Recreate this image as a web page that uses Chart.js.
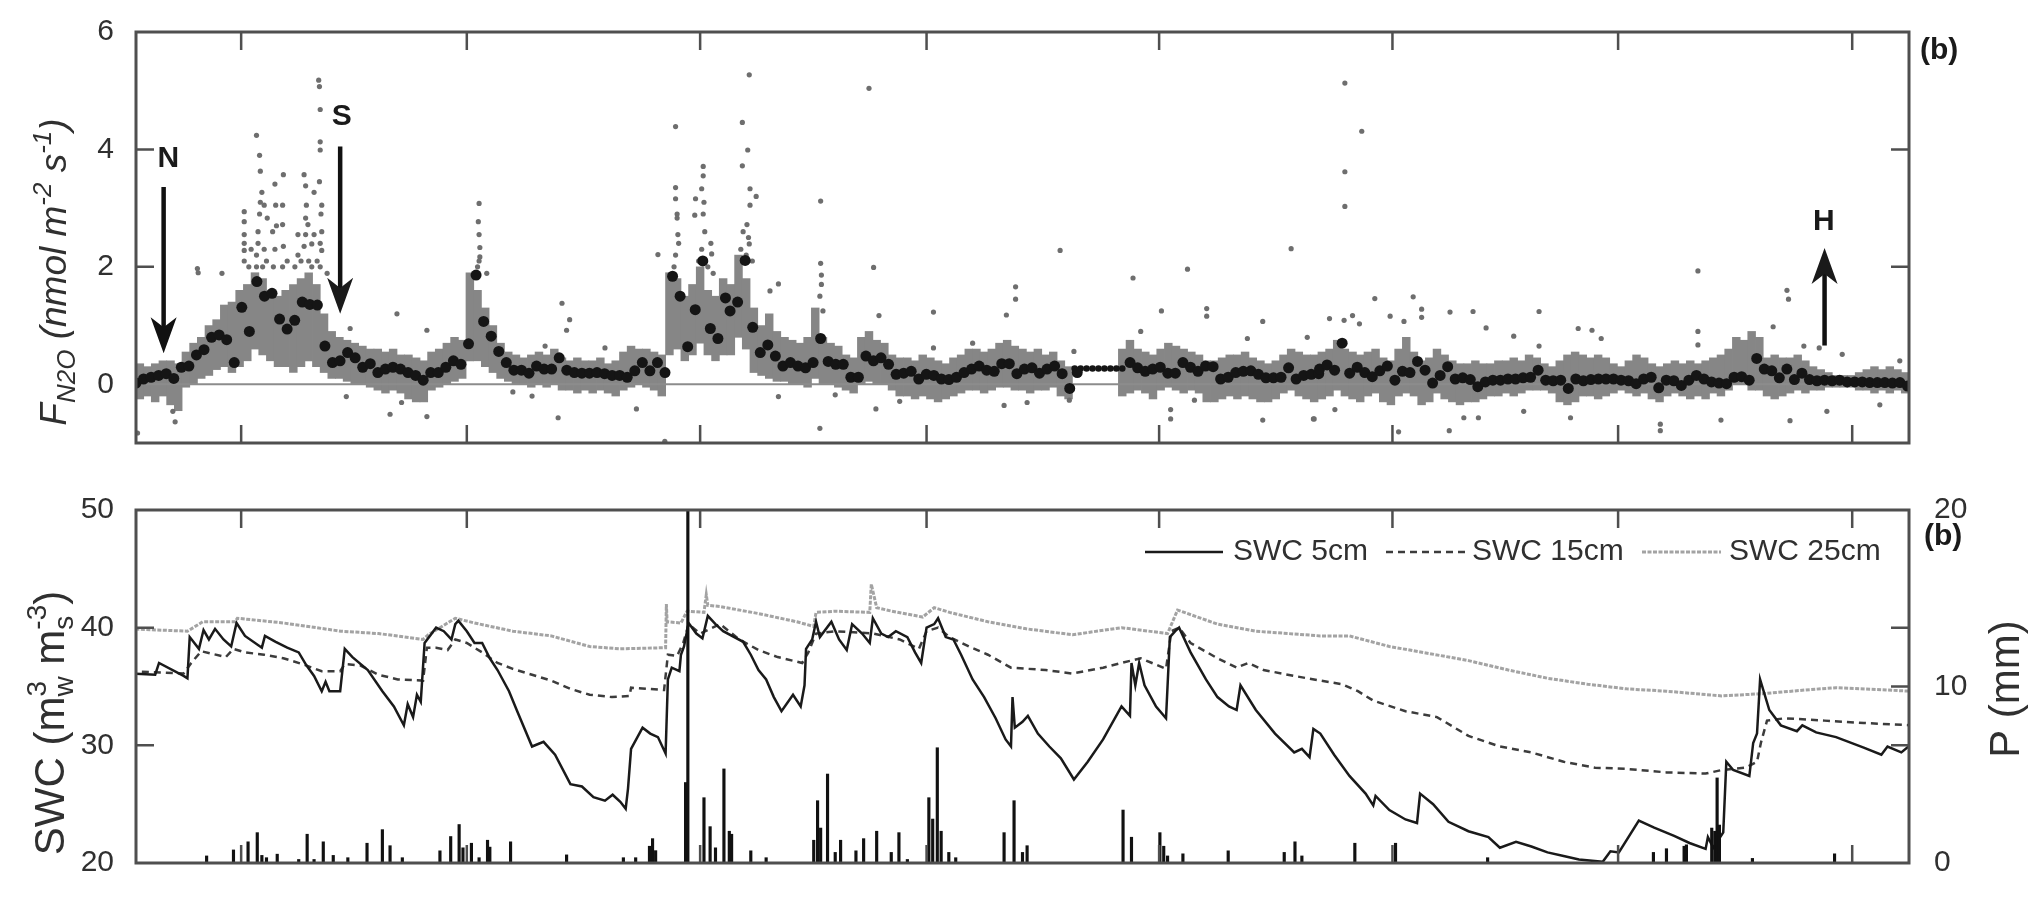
<!DOCTYPE html>
<html>
<head>
<meta charset="utf-8">
<script src="https://cdn.jsdelivr.net/npm/chart.js@4.4.1/dist/chart.umd.min.js"></script>
<style>
    html, body { margin: 0; padding: 0; background: #fff; }
    #wrap { position: relative; width: 2035px; height: 898px; overflow: hidden; }
    #topBox { position: absolute; left: 0; top: 0; width: 2035px; height: 475px; }
    #botBox { position: absolute; left: 0; top: 475px; width: 2035px; height: 423px; }
</style>
</head>
<body>
<div id="wrap">
    <div id="topBox"><canvas id="fluxChart"></canvas></div>
    <div id="botBox"><canvas id="swcChart"></canvas></div>
</div>
<script>
// ---- axis ticks (x in days, month starts have no labels) ----
const monthTicks = [0.2, 29.6, 60.0, 89.5, 119.8, 150.2, 179.6, 210.1];
const fluxTicks = [-1, 0, 2, 4, 6];
const swcTicks = [20, 30, 40, 50];
const rainTicks = [0, 10, 20];

// ---- daily mean N2O flux, three stretches: [first day, last day] + values ----
const meanSpanA = [-13.5, 63.3];
const meanFluxA = [0.02,0.09,0.12,0.15,0.18,0.1,0.29,0.31,0.5,0.59,
    0.8,0.84,0.76,0.37,1.31,0.9,1.75,1.5,1.55,1.11,
    0.94,1.09,1.4,1.36,1.35,0.65,0.37,0.4,0.54,0.45,
    0.29,0.35,0.2,0.26,0.29,0.26,0.2,0.15,0.07,0.2,
    0.2,0.29,0.4,0.34,0.69,1.86,1.07,0.82,0.56,0.37,
    0.24,0.24,0.19,0.31,0.26,0.26,0.45,0.24,0.2,0.19,
    0.19,0.2,0.18,0.15,0.15,0.12,0.23,0.37,0.23,0.37,
    0.2,1.84,1.5,0.64,1.27,2.1,0.95,0.78,1.47];
const meanSpanB = [63.9, 140.6];
const meanFluxB = [1.25,1.4,2.11,0.97,0.54,0.67,0.48,0.31,0.37,0.31,
    0.28,0.37,0.78,0.39,0.34,0.34,0.12,0.12,0.48,0.4,
    0.45,0.34,0.17,0.19,0.22,0.09,0.17,0.15,0.09,0.08,
    0.12,0.2,0.26,0.31,0.24,0.22,0.35,0.35,0.18,0.26,
    0.28,0.19,0.26,0.31,0.18,-0.07,0.2,
    null,null,null,null,null,null,
    0.37,0.28,0.22,0.26,0.29,0.19,0.19,0.37,0.29,0.22,
    0.31,0.3,0.09,0.12,0.2,0.22,0.23,0.17,0.11,0.11,
    0.12,0.28,0.09,0.15,0.17,0.18];
const meanSpanC = [140.7, 217.3];
const meanFluxC = [0.26,0.33,0.24,0.7,0.19,0.29,0.2,0.13,0.23,0.31,
    0.07,0.22,0.2,0.39,0.24,0.02,0.15,0.3,0.09,0.11,
    0.08,-0.04,0.04,0.07,0.07,0.09,0.09,0.11,0.12,0.24,
    0.07,0.06,0.07,-0.07,0.09,0.06,0.08,0.09,0.09,0.09,
    0.07,0.06,0.01,0.09,0.12,-0.06,0.07,0.06,-0.02,0.07,
    0.15,0.09,0.04,0.02,0.01,0.12,0.13,0.07,0.44,0.26,
    0.23,0.11,0.26,0.08,0.19,0.08,0.06,0.07,0.06,0.07,
    0.04,0.04,0.04,0.03,0.03,0.03,0.02,0.03,-0.03];
// gap-filled days (small dots)
const gapSpan = [108.8, 115.0];
const gapFlux = [0.27,0.27,0.27,0.27,0.27,0.27,0.27,0.27,0.27];

// ---- half-hourly flux cloud: dense range per day (low / high) ----
const greyStartA = -14;
const greyLowA = [-0.3,-0.25,-0.2,-0.3,-0.2,-0.35,-0.45,-0.05,0.0,0.1,
    0.15,0.25,0.3,0.2,0.3,0.4,0.6,0.5,0.4,0.3,
    0.3,0.2,0.3,0.4,0.3,0.2,0.1,0.1,0.05,0.0,
    0.0,-0.05,-0.1,-0.15,-0.1,-0.15,-0.25,-0.3,-0.3,-0.1,
    -0.05,0.0,0.05,0.1,0.4,0.4,0.3,0.2,0.1,0.05,
    0.0,0.0,-0.05,0.0,-0.05,0.0,-0.1,-0.1,-0.15,-0.1,
    -0.15,-0.1,-0.15,-0.2,-0.1,-0.05,0.0,-0.05,-0.1,-0.2,
    0.5,0.6,0.4,0.5,0.7,0.5,0.4];
const greyHighA = [0.3,0.35,0.3,0.35,0.4,0.4,0.35,0.55,0.7,0.8,
    1.0,1.1,1.35,1.4,1.6,1.7,1.9,1.8,1.6,1.5,
    1.6,1.7,1.8,1.9,1.7,1.2,0.9,0.8,0.75,0.7,
    0.65,0.6,0.6,0.55,0.6,0.5,0.5,0.45,0.4,0.55,
    0.6,0.7,0.8,0.75,1.9,1.6,1.3,1.0,0.7,0.55,
    0.5,0.45,0.5,0.55,0.5,0.6,0.45,0.4,0.45,0.4,
    0.4,0.45,0.35,0.4,0.55,0.65,0.6,0.6,0.55,0.5,
    1.9,1.8,1.5,1.7,2.0,1.6,1.5];
const greyStartB = 63;
const greyLowB = [0.5,0.5,0.8,0.6,0.2,0.15,0.1,0.05,0.05,0.0,
    0.0,-0.05,0.1,0.0,0.0,-0.05,-0.1,-0.15,0.0,0.05,
    0.0,0.0,-0.1,-0.2,-0.2,-0.25,-0.2,-0.25,-0.3,-0.25,
    -0.2,-0.15,-0.1,-0.1,-0.15,-0.1,-0.05,-0.05,-0.1,-0.1,
    -0.15,-0.1,-0.1,-0.05,-0.2,-0.25,null,null,null,null,
    null,null,-0.2,-0.15,-0.1,-0.15,-0.25,-0.1,-0.05,-0.1,
    -0.15,-0.1,-0.15,-0.3,-0.3,-0.25,-0.2,-0.25,-0.2,-0.25,
    -0.3,-0.3,-0.25,-0.15,-0.1,-0.2,-0.25];
const greyHighB = [1.8,1.7,2.2,1.8,1.3,1.0,1.2,0.9,0.8,0.75,
    0.7,0.8,1.3,0.8,0.7,0.65,0.5,0.45,0.8,0.9,
    0.75,0.7,0.5,0.45,0.45,0.4,0.5,0.45,0.4,0.35,
    0.45,0.5,0.6,0.6,0.55,0.6,0.7,0.75,0.65,0.6,
    0.55,0.6,0.5,0.55,0.4,0.3,null,null,null,null,
    null,null,0.6,0.75,0.6,0.55,0.5,0.6,0.7,0.65,
    0.6,0.55,0.5,0.4,0.4,0.45,0.5,0.5,0.55,0.45,
    0.4,0.35,0.4,0.5,0.6,0.55,0.5];
const greyStartC = 140;
const greyLowC = [-0.3,-0.25,-0.2,-0.1,-0.2,-0.25,-0.3,-0.2,-0.15,-0.3,
    -0.35,-0.2,-0.15,-0.2,-0.35,-0.3,-0.15,-0.25,-0.3,-0.35,
    -0.3,-0.3,-0.25,-0.2,-0.2,-0.15,-0.2,-0.15,-0.1,-0.1,
    -0.1,-0.15,-0.3,-0.35,-0.3,-0.2,-0.2,-0.25,-0.2,-0.15,
    -0.1,-0.15,-0.2,-0.15,-0.25,-0.3,-0.2,-0.15,-0.2,-0.25,
    -0.2,-0.25,-0.15,-0.2,-0.1,0.0,0.0,-0.1,-0.1,-0.2,
    -0.25,-0.2,-0.15,-0.1,-0.15,-0.1,-0.1,-0.05,-0.05,-0.05,
    -0.05,-0.1,-0.1,-0.15,-0.1,-0.15,-0.1,-0.15];
const greyHighC = [0.5,0.55,0.6,0.75,0.6,0.55,0.5,0.55,0.6,0.45,
    0.4,0.6,0.8,0.55,0.4,0.45,0.6,0.5,0.4,0.35,
    0.35,0.4,0.35,0.35,0.4,0.4,0.45,0.4,0.5,0.45,
    0.35,0.3,0.4,0.5,0.55,0.5,0.45,0.5,0.45,0.35,
    0.3,0.4,0.5,0.45,0.35,0.3,0.35,0.4,0.35,0.4,
    0.35,0.4,0.45,0.5,0.6,0.8,0.75,0.9,0.8,0.45,
    0.5,0.45,0.45,0.5,0.4,0.3,0.25,0.2,0.15,0.15,
    0.15,0.2,0.25,0.3,0.25,0.3,0.25,0.2];

// single half-hourly values outside the dense band [day, flux]
const greyOutliers = [
    [-13.3,-0.83],[-8.4,-0.64],[-8.7,-0.46],[-5.5,1.97],[-5.4,1.9],[-2.3,1.89],
    [0.6,2.94],[0.6,2.77],[0.6,2.55],[0.6,2.28],[0.6,2.1],[0.6,2.4],[1.2,2.0],[1.5,2.3],
    [2.2,4.24],[2.6,3.9],[2.7,3.63],[2.9,3.27],[3.2,3.05],[3.6,2.83],[2.4,2.6],
    [2.2,2.0],[2.2,2.2],[2.4,2.4],[2.6,2.9],[2.7,3.1],[3.0,2.0],[3.2,2.3],[3.5,2.1],
    [4.6,3.41],[4.7,3.05],[4.3,2.6],[5.7,3.57],[5.6,3.05],[5.6,2.72],
    [4.4,2.0],[4.6,2.3],[4.8,2.7],[5.6,2.0],[5.7,2.35],[6.2,2.1],
    [7.6,2.55],[8.4,3.57],[8.6,3.38],[8.7,3.05],[8.6,2.83],[8.9,2.72],[9.4,2.39],[9.7,3.27],
    [7.2,2.0],[7.6,2.2],[8.0,2.1],[8.4,2.35],[8.6,2.55],[9.0,2.1],[9.4,2.0],[9.7,2.55],
    [10.3,5.18],[10.4,5.07],[10.5,4.68],[10.5,4.13],[10.5,3.99],[10.4,3.45],[10.7,3.05],[10.7,2.6],[10.7,2.28],[11.4,1.89],
    [10.1,2.1],[10.5,2.0],[10.5,2.4],[10.6,2.9],
    [13.9,-0.21],[14.4,0.95],[20.5,1.2],[19.6,-0.51],[21.1,-0.31],[24.4,-0.55],[24.4,0.92],
    [31.2,3.08],[31.1,2.77],[31.2,2.55],[31.3,2.33],[31.3,2.17],[32.2,1.89],[31.0,2.0],[31.2,2.1],
    [35.6,-0.13],[38.1,-0.2],[39.8,0.65],[41.5,-0.57],[42.0,1.38],[43.0,1.1],[42.6,0.92],
    [47.6,0.62],[51.7,-0.42],[54.5,2.21],[55.4,-0.97],
    [56.8,4.39],[56.8,3.35],[56.8,3.16],[57.0,2.83],[57.1,2.55],
    [56.6,2.0],[56.8,2.2],[57.2,2.4],[57.0,2.9],
    [60.4,3.71],[60.4,3.55],[60.2,3.33],[60.5,3.1],[59.3,2.88],[59.4,3.16],[61.5,2.22],[61.7,1.89],
    [59.8,2.1],[60.2,2.3],[60.6,2.6],[60.4,2.9],[61.0,2.0],[61.4,2.4],
    [66.4,5.27],[65.5,4.46],[66.2,3.99],[65.5,3.72],[66.5,3.33],[67.3,3.2],[66.5,3.05],[66.1,2.72],[66.4,2.39],
    [65.3,2.3],[65.6,2.6],[66.0,2.2],[66.3,2.5],[66.8,2.1],
    [69.1,1.59],[70.2,1.71],[70.2,-0.21],
    [75.7,3.12],[75.7,2.06],[75.8,1.86],[76.0,1.25],[75.6,-0.75],[77.6,-0.18],[75.6,1.5],[75.8,1.7],
    [82.0,5.04],[82.6,1.99],[83.3,1.17],[82.9,-0.42],
    [90.4,1.23],[90.4,0.62],[95.5,0.7],[86.0,-0.29],
    [99.9,1.18],[101.1,1.66],[101.1,1.45],[99.6,-0.36],[102.6,-0.31],
    [106.9,2.28],[108.7,0.56],[108.1,-0.27],
    [116.4,1.81],[117.4,0.9],[120.1,1.25],[121.3,-0.59],[121.3,-0.43],
    [123.5,1.96],[126.0,1.29],[126.0,1.16],[124.4,-0.27],
    [131.3,0.78],[133.3,1.07],[133.3,-0.61],[137.0,2.31],[139.1,0.8],[139.9,-0.59],
    [144.0,5.13],[146.2,4.31],[144.0,3.62],[144.0,3.03],
    [142.0,1.12],[143.9,1.09],[145.0,1.17],[145.9,1.03],
    [147.9,1.46],[149.9,1.16],[151.7,1.07],[152.9,1.49],[154.0,1.28],[154.0,1.14],
    [151.0,-0.81],[140.0,-0.59],[142.7,-0.43],[157.6,-0.79],
    [157.7,1.23],[160.7,1.24],[162.4,0.96],[166.0,0.82],
    [169.3,1.24],[169.3,0.65],[167.3,-0.46],[161.4,-0.57],[159.5,-0.57],
    [174.4,0.95],[176.2,0.92],[177.4,0.78],[173.4,-0.57],
    [185.1,-0.79],[185.1,-0.68],
    [190.0,1.93],[190.0,0.9],[190.0,0.67],[193.0,-0.61],
    [199.8,0.98],[201.6,1.6],[201.8,1.45],[202.0,-0.62],
    [203.8,0.65],[205.8,0.62],[206.8,-0.46],[208.8,0.51],[213.7,-0.35],[216.3,0.4]
];

// ---- soil water content [day, %] ----
const swc5 = [
    [-14.3,36.1],[-11.0,36.0],[-10.5,37.0],[-7.3,35.9],[-6.8,35.7],[-6.5,39.2],[-5.3,38.2],[-4.7,39.8],[-4.0,39.0],[-3.2,39.9],
    [-2.1,39.0],[-1.1,38.4],[-0.4,40.4],[0.7,39.3],[2.9,38.3],[3.3,39.3],[4.7,38.8],[6.2,38.3],[7.7,37.9],[8.7,36.8],
    [9.7,35.9],[10.7,34.6],[11.2,35.4],[11.7,34.6],[13.1,34.6],[13.7,38.2],[14.7,37.5],[16.7,36.4],[18.6,34.6],[20.1,33.3],
    [21.4,31.7],[21.9,33.5],[22.6,32.4],[23.1,34.3],[23.6,33.7],[24.1,38.7],[25.6,40.0],[26.6,39.7],[27.6,39.0],[28.1,40.3],
    [28.5,40.6],[29.6,39.7],[30.6,38.7],[31.6,38.7],[32.6,37.4],[33.6,36.4],[35.1,34.6],[36.1,33.0],[38.1,29.9],[39.6,30.3],
    [41.1,29.2],[43.1,26.7],[44.6,26.5],[46.1,25.6],[47.6,25.3],[48.6,25.8],[49.6,25.2],[50.3,24.6],[50.6,26.3],[51.0,29.7],
    [52.5,31.5],[53.5,31.0],[54.5,30.7],[55.5,29.3],[55.8,35.6],[56.3,36.6],[57.3,36.3],[57.5,37.7],[57.9,38.4],[58.5,40.4],
    [59.5,39.5],[60.3,39.1],[61.0,41.0],[62.0,40.3],[63.0,39.7],[65.6,38.8],[66.6,37.7],[67.6,36.4],[68.6,35.6],[69.6,34.1],
    [70.6,32.9],[72.1,34.3],[73.1,33.3],[73.6,35.1],[73.8,38.2],[74.6,39.0],[75.1,40.5],[75.6,39.2],[77.1,40.5],[78.1,39.0],
    [79.1,38.1],[79.8,40.3],[81.1,39.5],[82.1,38.7],[82.5,40.8],[83.6,39.5],[84.5,39.2],[85.5,39.7],[87.0,39.2],[88.0,37.9],
    [88.8,37.0],[89.5,40.0],[90.5,40.3],[91.0,40.8],[92.0,39.2],[93.0,39.0],[94.0,37.7],[95.5,35.6],[97.0,34.1],[98.5,32.3],
    [99.8,30.5],[100.5,29.9],[100.7,34.1],[101.0,31.5],[102.0,32.0],[102.7,32.5],[104.0,31.0],[105.5,29.9],[107.0,28.9],[108.7,27.1],
    [110.5,28.6],[112.5,30.5],[114.9,33.3],[116.0,32.5],[116.2,37.0],[116.7,35.1],[117.2,37.0],[117.9,35.1],[119.4,33.3],[120.7,32.3],
    [121.2,39.2],[121.9,39.7],[122.4,40.0],[123.9,37.9],[125.9,35.6],[127.4,34.1],[128.9,33.3],[129.9,33.0],[130.4,35.1],[132.4,33.0],
    [134.9,31.0],[137.4,29.4],[138.4,29.7],[139.4,29.0],[139.9,31.4],[140.8,31.0],[142.6,29.2],[144.6,27.4],[146.7,25.9],[147.7,24.9],
    [148.0,25.7],[149.8,24.5],[151.9,23.7],[153.4,23.4],[153.8,25.9],[155.5,25.0],[157.5,23.5],[160.1,22.7],[162.7,22.2],[164.2,21.3],
    [166.3,21.8],[168.3,21.4],[170.4,20.9],[172.5,20.6],[174.5,20.3],[177.6,20.1],[178.6,21.0],[179.7,20.9],[182.3,23.6],[184.3,23.0],
    [186.9,22.3],[188.9,21.7],[191.0,21.2],[191.3,22.2],[192.0,21.3],[193.3,22.6],[193.7,28.6],[194.6,27.9],[196.7,27.4],[197.2,30.2],
    [197.7,31.0],[198.1,35.6],[199.3,33.0],[200.8,31.7],[202.9,31.2],[203.6,31.7],[205.4,31.1],[208.0,30.7],[211.6,29.8],[213.9,29.2],
    [214.7,29.9],[216.5,29.4],[217.8,30.1]
];
const swc15 = [
    [-14.3,36.3],[-7.3,36.1],[-6.3,37.0],[-5.0,38.0],[-1.8,37.5],[-0.8,38.2],[0.7,37.9],[3.2,37.7],[5.7,37.4],[8.2,36.9],
    [10.7,36.3],[13.1,36.3],[13.7,36.9],[15.7,36.8],[18.1,36.0],[20.6,35.6],[23.9,35.5],[24.4,38.3],[25.6,38.3],[27.1,38.1],
    [28.1,39.0],[29.6,38.7],[31.6,37.9],[33.6,37.0],[35.6,36.5],[38.1,36.0],[40.6,35.5],[43.1,34.8],[45.6,34.3],[48.5,34.1],
    [50.8,34.2],[51.0,34.9],[55.3,34.7],[55.8,37.7],[57.0,37.6],[57.8,38.7],[58.5,40.3],[60.0,39.5],[62.6,40.3],[65.1,39.0],
    [67.6,38.1],[70.1,37.5],[73.3,37.0],[74.1,37.9],[75.1,39.5],[77.6,39.7],[82.6,39.5],[86.0,39.0],[88.5,38.2],[89.5,39.7],
    [91.0,40.0],[92.5,39.2],[95.0,38.4],[97.5,37.7],[100.5,36.6],[105.0,36.4],[108.5,36.1],[112.5,36.6],[114.9,37.0],[117.4,37.4],
    [120.7,36.5],[121.4,39.7],[122.4,40.0],[123.9,38.7],[127.4,37.4],[129.9,36.6],[131.4,37.0],[133.4,36.4],[137.4,35.9],[140.8,35.5],
    [143.6,35.2],[145.7,34.6],[147.7,33.8],[151.9,32.9],[156.0,32.4],[160.1,30.8],[164.2,29.9],[168.3,29.4],[172.5,28.6],[176.6,28.1],
    [180.7,28.0],[185.9,27.7],[191.0,27.6],[193.1,27.9],[196.2,28.1],[197.7,28.6],[198.2,30.2],[199.0,32.1],[201.3,32.3],[206.5,32.1],
    [211.6,31.9],[217.8,31.7]
];
const swc25 = [
    [-14.3,39.9],[-6.8,39.7],[-4.8,40.5],[-0.6,40.5],[-0.3,40.8],[5.7,40.4],[13.2,39.7],[18.1,39.5],[23.9,39.0],[24.6,39.4],
    [26.1,40.0],[28.1,40.8],[30.6,40.4],[35.6,39.7],[40.6,39.3],[45.6,38.4],[49.5,38.2],[55.5,38.3],[55.6,42.0],[55.7,40.5],
    [57.5,40.4],[58.3,41.4],[60.5,41.3],[60.8,42.8],[61.0,41.9],[62.6,41.8],[67.6,41.2],[72.6,40.5],[74.8,40.1],[75.1,41.3],
    [77.6,41.4],[82.1,41.3],[82.3,43.7],[83.0,41.7],[85.0,41.4],[89.0,40.9],[90.5,41.7],[92.5,41.3],[97.5,40.5],[102.5,39.9],
    [108.5,39.4],[114.9,40.0],[120.9,39.5],[122.2,41.5],[127.4,40.3],[132.4,39.7],[140.8,39.3],[144.6,39.3],[149.8,38.4],[155.0,37.8],
    [160.1,37.2],[165.3,36.4],[170.4,35.7],[175.6,35.2],[180.7,34.8],[185.9,34.6],[193.1,34.2],[198.7,34.4],[203.9,34.7],[208.0,34.9],
    [217.8,34.6]
];

// ---- precipitation [day, mm] ----
const rain = [
    [-4.3,0.4],[-0.8,0.74],[1.1,1.2],[2.3,1.72],[2.9,0.43],[3.5,0.3],[4.9,0.5],[7.7,0.2],[8.8,1.63],[9.7,0.2],
    [10.9,1.2],[12.2,0.43],[14.1,0.3],[16.6,1.12],[18.6,1.89],[19.6,0.98],[21.2,0.3],[26.1,0.69],[27.5,1.5],[28.6,2.18],
    [29.1,0.86],[30.2,1.12],[31.2,0.3],[32.3,1.29],[32.6,0.9],[35.3,1.2],[42.6,0.46],[50.0,0.3],[51.6,0.3],[53.4,0.95],
    [53.8,1.38],[54.2,0.7],[58.1,4.56],[58.4,20],[60.5,3.7],[61.3,2.06],[62.0,0.86],[63.1,5.33],[63.8,1.8],[64.1,1.63],
    [66.6,0.69],[68.6,0.3],[74.8,1.29],[75.3,3.53],[75.7,1.98],[76.6,5.04],[77.6,0.6],[78.3,1.29],[80.3,0.69],[81.3,1.38],
    [83.0,1.8],[84.9,0.6],[85.9,1.72],[87.0,0.2],[89.8,3.7],[90.3,2.49],[90.9,6.53],[91.4,1.8],[92.4,0.6],[93.3,0.3],
    [99.6,1.72],[100.9,3.53],[102.0,0.6],[102.6,0.98],[115.1,3.0],[116.2,1.46],[119.9,1.72],[120.4,0.95],[120.9,0.4],[122.9,0.52],
    [128.8,0.69],[136.1,0.6],[137.5,1.2],[138.4,0.4],[145.3,1.12],[150.6,1.12],[162.6,0.3],[184.2,0.6],[185.9,0.81],[188.2,0.95],
    [188.5,1.03],[191.8,1.98],[192.2,1.8],[192.5,4.82],[192.8,2.15],[197.1,0.26],[207.8,0.52]
];

// ---- event markers: N, S (down arrows) and H (up arrow) ----
const markers = [
    { label: 'N', day: -9.9, tail: 3.36, tip: 0.53, textDay: -9.3, textY: 3.84 },
    { label: 'S', day: 13.1, tail: 4.05, tip: 1.2, textDay: 13.3, textY: 4.55 },
    { label: 'H', day: 206.5, tail: 0.66, tip: 2.32, textDay: 206.4, textY: 2.77 }
];

const INK = '#303030';
const FRAME = '#4f4f4f';
const FONT = '"Liberation Sans", Arial, Helvetica, sans-serif';
const TICK = 18;

function daily(vals, span) {
    const step = (span[1] - span[0]) / (vals.length - 1);
    return vals.map((v, i) => ({ x: span[0] + i * step, y: v }));
}
function ranges(lo, hi, start) {
    const out = [];
    lo.forEach((l, i) => { if (l !== null) out.push({ x: start + i, y: [l, hi[i]] }); });
    return out;
}
const pairs = arr => arr.map(([x, y]) => ({ x, y }));

function fontStr(p) {
    return (p.bold ? 'bold ' : '') + (p.italic ? 'italic ' : '') + p.size + 'px ' + FONT;
}

// rich text along a rotated baseline, centred on (cx, cy)
function drawRich(ctx, parts, cx, cy, rot) {
    ctx.save();
    ctx.translate(cx, cy);
    ctx.rotate(rot);
    ctx.textBaseline = 'alphabetic';
    ctx.textAlign = 'left';
    ctx.fillStyle = INK;
    const widths = parts.map(p => {
        ctx.font = fontStr(p);
        if (p.stack) return Math.max(...p.stack.map(s => ctx.measureText(s.t).width));
        return ctx.measureText(p.t).width;
    });
    let x = -widths.reduce((a, b) => a + b, 0) / 2;
    parts.forEach((p, i) => {
        ctx.font = fontStr(p);
        if (p.stack) p.stack.forEach(s => ctx.fillText(s.t, x, s.dy));
        else ctx.fillText(p.t, x, p.dy || 0);
        x += widths[i];
    });
    ctx.restore();
}

function drawFrame(chart, leftTicks, rightTicks) {
    const { ctx, chartArea: a, scales } = chart;
    ctx.save();
    ctx.strokeStyle = FRAME;
    ctx.lineWidth = 2.5;
    ctx.beginPath();
    monthTicks.forEach(d => {
        const px = scales.x.getPixelForValue(d);
        ctx.moveTo(px, a.top); ctx.lineTo(px, a.top + TICK);
        ctx.moveTo(px, a.bottom); ctx.lineTo(px, a.bottom - TICK);
    });
    leftTicks.forEach(v => {
        const py = scales.y.getPixelForValue(v);
        ctx.moveTo(a.left, py); ctx.lineTo(a.left + TICK, py);
        ctx.moveTo(a.right, py); ctx.lineTo(a.right - TICK, py);
    });
    rightTicks.forEach(v => {
        const py = scales.yP.getPixelForValue(v);
        ctx.moveTo(a.right, py); ctx.lineTo(a.right - TICK, py);
    });
    ctx.stroke();
    ctx.lineWidth = 3;
    ctx.strokeRect(a.left, a.top, a.right - a.left, a.bottom - a.top);
    ctx.restore();
}

function drawArrow(ctx, x, yTail, yTip) {
    const dir = Math.sign(yTip - yTail);
    const head = 36, half = 13;
    ctx.beginPath();
    ctx.moveTo(x, yTail);
    ctx.lineTo(x, yTip - dir * head * 0.7);
    ctx.stroke();
    ctx.beginPath();
    ctx.moveTo(x, yTip);
    ctx.lineTo(x - half, yTip - dir * head);
    ctx.lineTo(x, yTip - dir * head * 0.72);
    ctx.lineTo(x + half, yTip - dir * head);
    ctx.closePath();
    ctx.fill();
}

const fluxDecor = {
    id: 'fluxDecor',
    afterDraw(chart) {
        const { ctx, scales } = chart;
        drawFrame(chart, [2, 4], []);
        ctx.save();
        ctx.strokeStyle = '#111';
        ctx.fillStyle = '#111';
        ctx.lineWidth = 4.5;
        markers.forEach(m => {
            const x = scales.x.getPixelForValue(m.day);
            drawArrow(ctx, x, scales.y.getPixelForValue(m.tail), scales.y.getPixelForValue(m.tip));
            ctx.font = 'bold 30px ' + FONT;
            ctx.textAlign = 'center';
            ctx.textBaseline = 'middle';
            ctx.fillStyle = '#1a1a1a';
            ctx.fillText(m.label, scales.x.getPixelForValue(m.textDay), scales.y.getPixelForValue(m.textY));
        });
        ctx.font = 'bold 30px ' + FONT;
        ctx.textAlign = 'left';
        ctx.fillStyle = '#1a1a1a';
        ctx.fillText('(b)', 1920, 51);
        ctx.restore();
        drawRich(ctx, [
            { t: 'F', size: 37, italic: true },
            { t: 'N2O', size: 26, italic: true, dy: 9 },
            { t: ' (nmol m', size: 37, italic: true },
            { t: '-2', size: 26, italic: true, dy: -15 },
            { t: ' s', size: 37, italic: true },
            { t: '-1', size: 26, italic: true, dy: -15 },
            { t: ')', size: 37, italic: true }
        ], 66, 272, -Math.PI / 2);
    }
};

const swcDecor = {
    id: 'swcDecor',
    afterDraw(chart) {
        const { ctx } = chart;
        drawFrame(chart, [30, 40], [10]);
        drawRich(ctx, [
            { t: 'SWC (m', size: 42 },
            { size: 28, stack: [{ t: '3', dy: -18 }, { t: 'w', dy: 9 }] },
            { t: ' m', size: 42 },
            { size: 28, stack: [{ t: '-3', dy: -18 }, { t: 's', dy: 9 }] },
            { t: ')', size: 42 }
        ], 64, 248, -Math.PI / 2);
        drawRich(ctx, [{ t: 'P (mm)', size: 42 }], 2019, 214, -Math.PI / 2);

        // legend inside the plot
        const ly = 77;
        ctx.save();
        ctx.lineWidth = 2.5;
        ctx.strokeStyle = '#1a1a1a';
        ctx.beginPath(); ctx.moveTo(1145, ly); ctx.lineTo(1223, ly); ctx.stroke();
        ctx.strokeStyle = '#3c3c3c';
        ctx.setLineDash([7, 5]);
        ctx.beginPath(); ctx.moveTo(1386, ly); ctx.lineTo(1467, ly); ctx.stroke();
        ctx.strokeStyle = '#a3a3a3';
        ctx.lineWidth = 3;
        ctx.setLineDash([4, 1.5]);
        ctx.beginPath(); ctx.moveTo(1642, ly); ctx.lineTo(1721, ly); ctx.stroke();
        ctx.setLineDash([]);
        ctx.font = '30px ' + FONT;
        ctx.fillStyle = INK;
        ctx.textAlign = 'left';
        ctx.textBaseline = 'middle';
        ctx.fillText('SWC 5cm', 1233, ly);
        ctx.fillText('SWC 15cm', 1472, ly);
        ctx.fillText('SWC 25cm', 1729, ly);
        ctx.font = 'bold 30px ' + FONT;
        ctx.fillStyle = '#1a1a1a';
        ctx.fillText('(b)', 1924, 62);
        ctx.restore();
    }
};

const tickFont = { size: 30, family: FONT };

new Chart(document.getElementById('fluxChart'), {
    type: 'scatter',
    data: {
        datasets: [
            {
                type: 'bar',
                label: 'half-hourly range',
                data: [...ranges(greyLowA, greyHighA, greyStartA), ...ranges(greyLowB, greyHighB, greyStartB), ...ranges(greyLowC, greyHighC, greyStartC)],
                backgroundColor: '#868686',
                barThickness: 7.8,
                grouped: false,
                order: 5
            },
            {
                label: 'half-hourly',
                data: pairs(greyOutliers),
                pointRadius: 2.6,
                pointBackgroundColor: '#6e6e6e',
                pointBorderWidth: 0,
                order: 4
            },
            {
                type: 'line',
                label: 'zero',
                data: [{ x: -13.5, y: 0 }, { x: 217.5, y: 0 }],
                borderColor: '#8c8c8c',
                borderWidth: 2,
                pointRadius: 0,
                order: 3
            },
            {
                label: 'gap filled',
                data: daily(gapFlux, gapSpan),
                pointRadius: 3.3,
                pointBackgroundColor: '#151515',
                pointBorderWidth: 0,
                order: 2
            },
            {
                label: 'daily mean',
                data: [...daily(meanFluxA, meanSpanA), ...daily(meanFluxB, meanSpanB), ...daily(meanFluxC, meanSpanC)],
                pointRadius: 5.5,
                pointBackgroundColor: '#151515',
                pointBorderWidth: 0,
                order: 1
            }
        ]
    },
    options: {
        responsive: true,
        maintainAspectRatio: false,
        devicePixelRatio: 1,
        animation: false,
        layout: { padding: { left: 0, right: 126, top: 27, bottom: 24 } },
        plugins: { legend: { display: false }, tooltip: { enabled: false } },
        scales: {
            x: { type: 'linear', min: -13.5, max: 217.5, display: false, offset: false },
            y: {
                min: -1, max: 6,
                afterFit: s => { s.width = 136; },
                afterBuildTicks: s => { s.ticks = fluxTicks.map(v => ({ value: v })); },
                ticks: { callback: v => (v === -1 ? '' : v), font: tickFont, color: INK, padding: 14 },
                grid: { display: false },
                border: { display: false }
            }
        }
    },
    plugins: [fluxDecor]
});

new Chart(document.getElementById('swcChart'), {
    type: 'scatter',
    data: {
        datasets: [
            {
                type: 'line', label: 'SWC 25cm', data: pairs(swc25), yAxisID: 'y',
                borderColor: '#a3a3a3', borderWidth: 3, borderDash: [4, 1.5], pointRadius: 0, order: 4
            },
            {
                type: 'line', label: 'SWC 15cm', data: pairs(swc15), yAxisID: 'y',
                borderColor: '#3c3c3c', borderWidth: 2.5, borderDash: [7, 5], pointRadius: 0, order: 3
            },
            {
                type: 'line', label: 'SWC 5cm', data: pairs(swc5), yAxisID: 'y',
                borderColor: '#1a1a1a', borderWidth: 2.5, pointRadius: 0, order: 2
            },
            {
                type: 'bar', label: 'P', data: pairs(rain), yAxisID: 'yP',
                backgroundColor: '#111', barThickness: 2.5, grouped: false, order: 1
            }
        ]
    },
    options: {
        responsive: true,
        maintainAspectRatio: false,
        devicePixelRatio: 1,
        animation: false,
        layout: { padding: { left: 0, right: 0, top: 19, bottom: 16 } },
        plugins: { legend: { display: false }, tooltip: { enabled: false } },
        scales: {
            x: { type: 'linear', min: -13.5, max: 217.5, display: false, offset: false },
            y: {
                position: 'left', min: 20, max: 50,
                afterFit: s => { s.width = 136; },
                afterBuildTicks: s => { s.ticks = swcTicks.map(v => ({ value: v })); },
                ticks: { font: tickFont, color: INK, padding: 14 },
                grid: { display: false },
                border: { display: false }
            },
            yP: {
                position: 'right', min: 0, max: 20,
                afterFit: s => { s.width = 126; },
                afterBuildTicks: s => { s.ticks = rainTicks.map(v => ({ value: v })); },
                ticks: { font: tickFont, color: INK, padding: 17 },
                grid: { display: false },
                border: { display: false }
            }
        }
    },
    plugins: [swcDecor]
});
</script>
</body>
</html>
